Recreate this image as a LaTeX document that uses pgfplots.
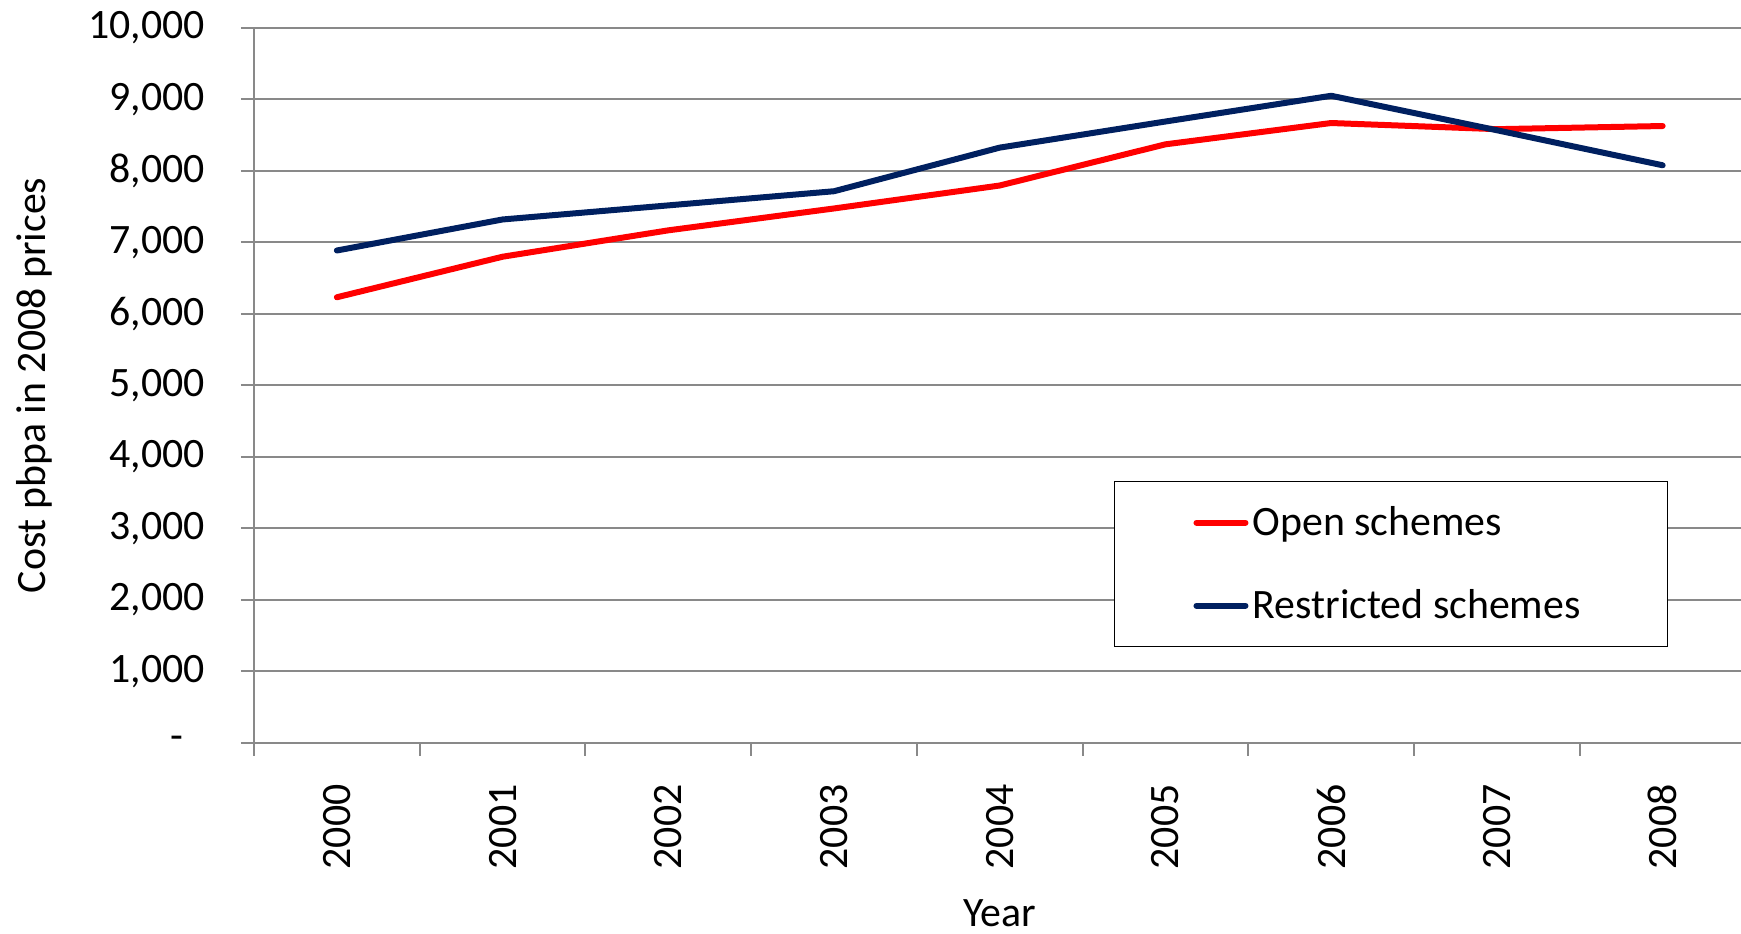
\documentclass[border=0pt]{standalone}
\usepackage{pgfplots}
\pgfplotsset{compat=1.18}
\usepackage{fontspec}
\setmainfont{Carlito}
\definecolor{openred}{RGB}{255,0,0}
\definecolor{restblue}{RGB}{0,32,96}
\definecolor{gridgray}{RGB}{137,137,137}
\begin{document}
\begin{tikzpicture}
\begin{axis}[
  at={(127bp,95.5bp)}, anchor=south west,
  scale only axis, width=745.75bp, height=357.5bp,
  xmin=-0.5, xmax=8.5, ymin=0, ymax=10000,
  scaled y ticks=false,
  axis x line*=bottom, axis y line*=left,
  axis line style={-, gridgray, line width=1bp},
  xtick={-0.5,0.5,1.5,2.5,3.5,4.5,5.5,6.5,7.5,8.5},
  x tick label as interval,
  xticklabels={2000,2001,2002,2003,2004,2005,2006,2007,2008},
  ytick={0,1000,2000,3000,4000,5000,6000,7000,8000,9000,10000},
  yticklabels={{-\kern10.5bp},{1,000},{2,000},{3,000},{4,000},{5,000},{6,000},{7,000},{8,000},{9,000},{10,000}},
  ymajorgrids, grid style={gridgray, line width=1bp},
  tick style={gridgray, line width=1bp}, tick align=outside, major tick length=6.5bp,
  ticklabel style={font=\fontsize{21}{25}\selectfont, text=black},
  xticklabel style={rotate=90, anchor=east, inner sep=0pt},
  yticklabel style={anchor=east, inner sep=0pt},
  xticklabel shift=14bp,
  yticklabel shift=18bp,
  xlabel={Year}, ylabel={Cost pbpa in 2008 prices},
  label style={font=\fontsize{21}{25}\selectfont, inner sep=0pt},
  xlabel style={at={(axis description cs:0.5,-0.238)}, anchor=center},
  ylabel style={at={(axis description cs:-0.1475,0.5)}, anchor=center},
  legend style={at={(axis description cs:0.5763,0.3667)}, anchor=north west,
    draw=black, line width=0.75bp, fill=white, inner xsep=39.6bp, inner ysep=12.5bp,
    font=\fontsize{21}{25}\selectfont, row sep=25.5bp, /tikz/column sep=2.1bp,
    nodes={inner sep=0pt}},
  legend cell align=left,
  legend image code/.code={\draw[#1, line width=3bp, line cap=round] (0bp,0bp) -- (24.5bp,0bp);},
]
\addplot[openred, line width=3bp, line join=round, line cap=round] coordinates {
  (0,6234) (1,6801) (2,7170) (3,7476) (4,7797) (5,8373) (6,8671) (7,8585) (8,8629)};
\addlegendentry{\makebox[167.8bp][l]{Open schemes}}
\addplot[restblue, line width=3bp, line join=round, line cap=round] coordinates {
  (0,6888) (1,7322) (2,7519) (3,7717) (4,8327) (5,8692) (6,9052) (7,8570) (8,8080)};
\addlegendentry{\makebox[167.8bp][l]{Restricted schemes}}
\end{axis}
\pgfresetboundingbox
\path[use as bounding box] (0,0) rectangle (870.5bp,467bp);
\end{tikzpicture}
\end{document}
